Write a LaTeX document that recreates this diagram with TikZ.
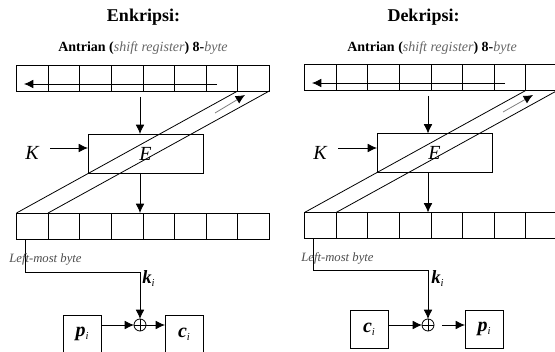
\documentclass[tikz,border=0pt]{standalone}
\usepackage{fontspec}
\setmainfont{Liberation Serif}
\usetikzlibrary{arrows.meta,calc}
\begin{document}
\begin{tikzpicture}[x=0.75pt,y=-0.75pt,line width=0.6pt,
  cell/.style={draw,minimum width=23.7pt,minimum height=19.5pt,inner sep=0pt,outer sep=0pt},
  fbox/.style={draw,minimum width=86.25pt,minimum height=29.25pt,inner sep=0pt,outer sep=0pt,font=\fontsize{15}{17}\selectfont\itshape},
  iobox/.style={draw,minimum width=28.5pt,minimum height=28.5pt,inner sep=0pt,outer sep=0pt,font=\fontsize{15}{17}\selectfont\bfseries\itshape},
  xorn/.style={circle,draw,minimum size=9pt,inner sep=0pt,outer sep=0pt},
  arr/.style={-{Latex[length=7pt,width=6.5pt]}},
  garr/.style={draw=gray,-{Latex[length=7pt,width=6.5pt,color=black]}},
  ttl/.style={font=\fontsize{13.5}{16}\selectfont\bfseries,inner sep=0pt},
  subttl/.style={font=\fontsize{10.5}{12}\selectfont,inner sep=0pt},
  klab/.style={font=\fontsize{15}{17}\selectfont\itshape,inner sep=0pt},
  kilab/.style={font=\fontsize{14}{16}\selectfont\bfseries\itshape,inner sep=0pt,anchor=west},
  lmb/.style={font=\fontsize{9.5}{11}\selectfont\itshape,text=black!70,inner sep=0pt,anchor=west}
]
\useasboundingbox (0,0) rectangle (555,352);
\clip (0,0) rectangle (555,352);
\newcommand{\subi}{\raisebox{-0.35ex}{\fontsize{8}{9}\selectfont\mdseries\itshape i}}
\newcommand{\subttltext}{\textbf{Antrian (}{\itshape\color{black!60}shift register}\textbf{) 8-}{\itshape\color{black!60}byte}}

% ---------------- Left panel: Enkripsi ----------------
\node[ttl] (Ltitle) at (143.5,17) {Enkripsi:};
\node[subttl] (Lsub) at (143,48) {\subttltext};
\foreach \i in {1,...,8}{
  \node[cell] (LT\i) at ({16.5+31.6*(\i-0.5)},78) {};
  \node[cell] (LB\i) at ({16.5+31.6*(\i-0.5)},226) {};
}
\coordinate (LRs) at (217,84);
\coordinate (LRe) at (24,84);
\draw[arr] (LRs) -- (LRe);
\node[fbox] (LE) at (145.5,153.5) {E};
\node[klab] (LK) at (32,153) {K};
\coordinate (LKa) at (50,148);
\draw[arr] (LKa) -- (LKa -| LE.west);
\coordinate (La) at (140,97);
\draw[arr] (La) -- (La |- LE.north);
\draw[arr] (LE.south -| La) -- (La |- LB1.north);
\draw (LT8.south west) -- (LB1.north west);
\draw (LT8.south east) -- (LB1.north east);
\coordinate (LGs) at (215,113);
\coordinate (LGe) at (245,95);
\draw[garr] (LGs) -- (LGe);
\node[xorn] (LX) at (140,325) {};
\draw (LX.north) -- (LX.south) (LX.west) -- (LX.east);
\coordinate (LL) at (25,272);
\draw[arr] (LL |- LB1.south) -- (LL) -| (LX.north);
\node[lmb] (Llmb) at (9,259) {Left-most byte};
\node[kilab] (Lki) at (142,279) {k\subi};
\node[iobox] (LP) at (82,334) {p\subi};
\node[iobox] (LC) at (184,334) {c\subi};
\draw[arr] (LP.east |- LX) -- (LX.west);
\draw[arr] (LX.east) -- (LX -| LC.west);

% ---------------- Right panel: Dekripsi ----------------
\node[ttl] (Rtitle) at (423.5,17) {Dekripsi:};
\node[subttl] (Rsub) at (432,48) {\subttltext};
\foreach \i in {1,...,8}{
  \node[cell] (RT\i) at ({304.5+31.6*(\i-0.5)},77.5) {};
  \node[cell] (RB\i) at ({304.5+31.6*(\i-0.5)},225.5) {};
}
\coordinate (RRs) at (505,83);
\coordinate (RRe) at (312,83);
\draw[arr] (RRs) -- (RRe);
\node[fbox] (RE) at (434.5,153) {E};
\node[klab] (RK) at (320,153) {K};
\coordinate (RKa) at (338,148);
\draw[arr] (RKa) -- (RKa -| RE.west);
\coordinate (Ra) at (428,96);
\draw[arr] (Ra) -- (Ra |- RE.north);
\draw[arr] (RE.south -| Ra) -- (Ra |- RB1.north);
\draw (RT8.south west) -- (RB1.north west);
\draw (RT8.south east) -- (RB1.north east);
\coordinate (RGs) at (503,112);
\coordinate (RGe) at (533,95);
\draw[garr] (RGs) -- (RGe);
\node[xorn] (RX) at (428,325) {};
\draw (RX.north) -- (RX.south) (RX.west) -- (RX.east);
\coordinate (RL) at (313,270);
\draw[arr] (RL |- RB1.south) -- (RL) -| (RX.north);
\node[lmb] (Rlmb) at (301,258) {Left-most byte};
\node[kilab] (Rki) at (431,279) {k\subi};
\node[iobox] (RC) at (369,329) {c\subi};
\node[iobox] (RP) at (484,329) {p\subi};
\draw[arr] (RC.east |- RX) -- (RX.west);
\draw[arr,shorten <=6pt] (RX.east) -- (RX -| RP.west);
\end{tikzpicture}
\end{document}
